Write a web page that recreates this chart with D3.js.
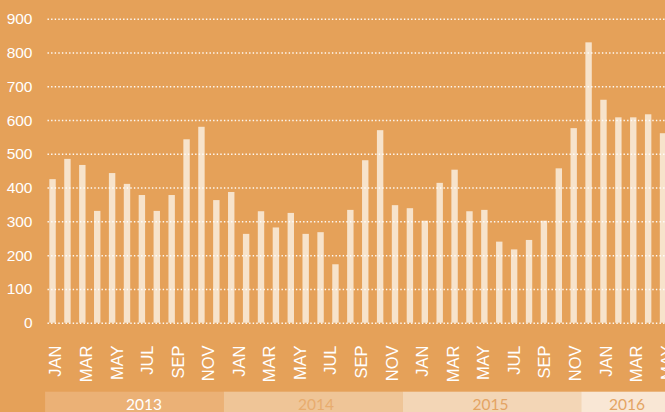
<!DOCTYPE html>
<meta charset="utf-8">
<html>
<head>
    <style>
        body { margin: 0; background: #E5A159; }
        svg { display: block; font-family: Lato, "Open Sans", sans-serif; }
        .grid line { stroke: #fff; stroke-width: 1.5; stroke-dasharray: 1.4,2.2; opacity: 0.95; }
        .grid text { fill: #fff; font-size: 15.5px; }
        .months text { fill: #fff; font-size: 16.5px; }
        .bar { fill: #F7E3CB; }
    </style>
    <script src="https://d3js.org/d3.v7.min.js"></script>
</head>
<body>
  <svg width="665" height="412"></svg>
  <script>

      // monthly values, Jan 2013 .. Jun 2016
      var monthNames = ["JAN","FEB","MAR","APR","MAY","JUN","JUL","AUG","SEP","OCT","NOV","DEC"];
      var years = [2013, 2014, 2015, 2016];
      var values2013 = [425, 485, 467, 331, 443, 411, 378, 331, 378, 543, 580, 363];
      var values2014 = [387, 263, 330, 282, 325, 263, 268, 173, 334, 481, 570, 348];
      var values2015 = [339, 302, 414, 453, 330, 334, 240, 217, 245, 302, 457, 576];
      var values2016 = [830, 660, 608, 608, 617, 561];
      var yTicks = [0, 100, 200, 300, 400, 500, 600, 700, 800, 900];

      var values = values2013.concat(values2014, values2015, values2016);
      var data = values.map(function(v, i) {
          return { i: i, month: monthNames[i % 12], year: years[Math.floor(i / 12)], value: v };
      });

      var svg = d3.select("svg"),
          W = 665, H = 412;

      var y = d3.scaleLinear().domain([0, 900]).range([322.7, 18.7]);

      var step = 14.89, pad = 0.57, x0 = 45.1;
      var x = d3.scaleBand()
          .domain(data.map(function(d) { return d.i; }))
          .range([x0, x0 + step * data.length])
          .paddingInner(pad)
          .paddingOuter(pad / 2);

      // month labels sit on a slightly wider grid than the bars
      var xl = d3.scalePoint()
          .domain(data.map(function(d) { return d.i; }))
          .range([55, 55 + 15.28 * (data.length - 1)]);

      // year bands
      var bandColors = ["#EBB176", "#EFC597", "#F3D6B6", "#F9E7D5"];
      var yearText = ["#FFFFFF", "#E8AC6E", "#E4A463", "#E4A463"];
      var yearLabelX = [144, 316, 490.5, 627];
      var yb = svg.append("g");
      years.forEach(function(yr, k) {
          var start = x(k * 12) - x.step() * pad / 2;
          yb.append("rect")
            .attr("x", start)
            .attr("y", 391.7)
            .attr("width", x.step() * 12)
            .attr("height", H - 391.7)
            .attr("fill", bandColors[k]);
          yb.append("text")
            .attr("x", yearLabelX[k])
            .attr("y", 404.5)
            .attr("dy", "0.36em")
            .attr("text-anchor", "middle")
            .attr("font-size", "15.5px")
            .attr("fill", yearText[k])
            .text(yr);
      });

      svg.selectAll(".bar")
         .data(data)
         .enter().append("rect")
         .attr("class", "bar")
         .attr("x", function(d) { return x(d.i); })
         .attr("y", function(d) { return y(d.value); })
         .attr("width", x.bandwidth())
         .attr("height", function(d) { return y(0) - y(d.value); });

      // y axis + dotted gridlines
      var gx = 47.5;
      svg.append("g")
         .attr("class", "grid")
         .attr("transform", "translate(" + gx + ",0)")
         .call(d3.axisLeft(y).tickValues(yTicks).tickSize(-(W - gx)).tickPadding(15))
         .call(function(g) { g.select(".domain").remove(); })
         .call(function(g) { g.selectAll("text").attr("fill", "#fff"); });

      // month axis
      svg.append("g")
         .attr("class", "months")
         .attr("transform", "translate(0,345.5)")
         .call(d3.axisBottom(xl)
              .tickValues(data.filter(function(d) { return d.i % 2 === 0; }).map(function(d) { return d.i; }))
              .tickSize(0)
              .tickFormat(function(i) { return monthNames[i % 12]; }))
         .call(function(g) { g.select(".domain").remove(); })
         .call(function(g) {
             g.selectAll("text")
              .attr("fill", "#fff")
              .attr("y", 0)
              .attr("x", 0)
              .attr("dy", "0.36em")
              .attr("text-anchor", "end")
              .attr("transform", "rotate(-90)");
         });

  </script>
</body>
</html>
